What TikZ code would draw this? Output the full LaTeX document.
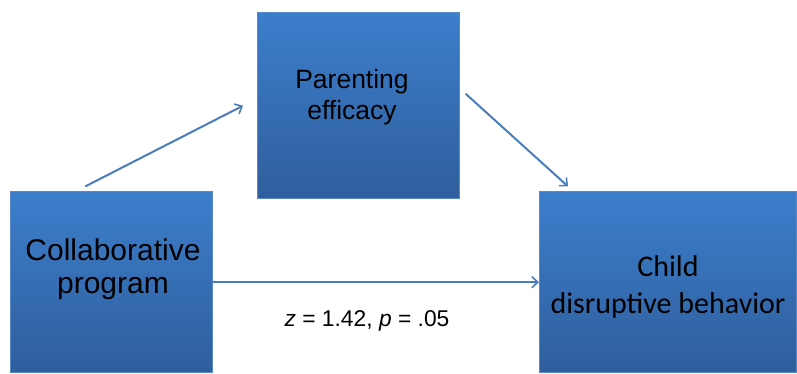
\documentclass[tikz,border=0pt]{standalone}
\usepackage{fontspec}
\setmainfont{Liberation Sans}
\newfontfamily\childfont{Carlito}
\usepackage{xcolor}
\usepackage{tikz}
\usetikzlibrary{arrows.meta,positioning,calc}

\definecolor{boxtop}{RGB}{60,126,204}
\definecolor{boxbot}{RGB}{47,94,156}
\definecolor{boxedge}{RGB}{88,138,200}
\definecolor{linkblue}{RGB}{74,126,187}

\tikzset{
  factor/.style={rectangle,draw=boxedge,line width=0.6pt,top color=boxtop,
    bottom color=boxbot,inner sep=0pt,anchor=south west},
  factortext/.style={inner sep=0pt,align=center,text=black},
  link/.style={draw=linkblue,line width=2pt,
    -{Straight Barb[length=6pt,width=11pt,line width=1.6pt]}}
}

\begin{document}
\begin{tikzpicture}[x=1pt,y=1pt]
  \useasboundingbox (0,0) rectangle (797,373);
  \clip (0,0) rectangle (797,373);

  % the three boxes
  \node[factor,minimum width=202pt,minimum height=186pt] (eff) at (257,174) {};
  \node[factor,minimum width=202pt,minimum height=181pt] (prog) at (10,0) {};
  \node[factor,minimum width=257pt,minimum height=181pt] (child) at (539,0) {};

  \node[factortext,font=\fontsize{26.5}{31}\selectfont] (efftxt) at (352,276)
    {Parenting\\efficacy};
  \node[factortext,font=\fontsize{30}{33}\selectfont] (progtxt) at (113,104)
    {Collaborative\\program};
  \node[factortext,font=\childfont\fontsize{30}{37}\selectfont] (childtxt) at (668,86.5)
    {Child\\disruptive behavior};

  % paths
  \draw[link] ($(prog.north)+(-26,5)$) -- ($(eff.west)+(-14,0)$);
  \draw[link] ($(eff.east)+(6,12)$) -- ($(child.north west)+(29,5)$);
  \draw[link] (prog.east) -- (child.west);

  \node[inner sep=0pt,font=\fontsize{22.8}{27}\selectfont] (stat) at (367,51.6)
    {\textit{z} = 1.42, \textit{p} = .05};
\end{tikzpicture}
\end{document}
